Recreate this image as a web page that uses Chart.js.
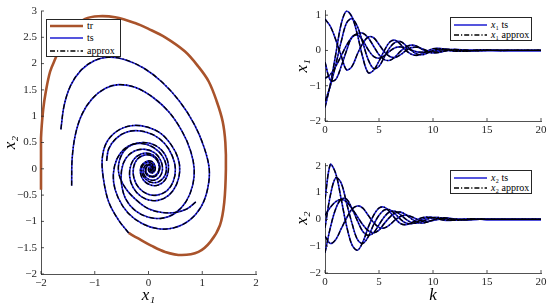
<!DOCTYPE html>
<html>
<head>
<meta charset="utf-8">
<script src="https://cdn.jsdelivr.net/npm/chart.js@4.4.1/dist/chart.umd.min.js"></script>
<style>
  html, body { margin: 0; padding: 0; background: #fff; }
  #page { position: relative; width: 550px; height: 306px; overflow: hidden; }
  canvas { position: absolute; }
  .legend { position: absolute; background: #fff; border: 1px solid #262626; box-sizing: border-box;
            font-family: "Liberation Serif", serif; font-size: 10px; color: #000; }
  .legend .row { position: absolute; left: 0; right: 0; height: 12px; line-height: 12px; display: flex; align-items: center; white-space: nowrap; }
  .legend svg { flex: none; }
</style>
</head>
<body>
<div id="page">
  <canvas id="phase" width="275" height="306" style="left:0;top:0"></canvas>
  <canvas id="x1chart" width="260" height="150" style="left:290px;top:0"></canvas>
  <canvas id="x2chart" width="260" height="156" style="left:290px;top:150px"></canvas>
</div>
<script>
// ---- phase portrait data (x1, x2) ----
const trCurve = [[-2.0,-0.4],[-2.0,0.1],[-2.0,0.58],[-1.96,1.12],[-1.91,1.47],[-1.83,1.85],[-1.73,2.1],
  [-1.6,2.42],[-1.42,2.68],[-1.18,2.85],[-0.93,2.9],[-0.62,2.88],[-0.25,2.77],[0.0,2.66],[0.31,2.5],
  [0.68,2.23],[0.93,1.94],[1.12,1.66],[1.27,1.28],[1.38,0.9],[1.43,0.5],[1.44,0.0],[1.41,-0.63],
  [1.33,-1.07],[1.15,-1.39],[0.93,-1.58],[0.62,-1.64],[0.31,-1.58],[0.05,-1.46],[-0.2,-1.32],[-0.37,-1.22]];

const traj1 = [[-1.63,0.75],[-1.57,1.2],[-1.45,1.58],[-1.25,1.88],[-1.0,2.06],[-0.75,2.12],[-0.45,2.08],
  [-0.1,1.92],[0.25,1.65],[0.58,1.28],[0.85,0.85],[1.03,0.42],[1.13,0.0],[1.1,-0.38],[0.98,-0.72],
  [0.76,-0.98],[0.48,-1.12],[0.18,-1.14],[-0.12,-1.04],[-0.38,-0.84],[-0.56,-0.56],[-0.65,-0.25],
  [-0.63,0.06],[-0.52,0.3],[-0.34,0.45],[-0.12,0.48],[0.1,0.4],[0.26,0.24],[0.33,0.05],[0.31,-0.12],
  [0.2,-0.24],[0.06,-0.26],[-0.06,-0.19],[-0.13,-0.06],[-0.11,0.06],[-0.03,0.12],[0.06,0.1],[0.11,0.02],
  [0.09,-0.05],[0.04,-0.06],[0.01,-0.02],[0.03,0.02],[0.05,0.01]];

const traj2 = [[-1.43,-0.32],[-1.42,0.2],[-1.36,0.65],[-1.24,1.03],[-1.05,1.33],[-0.8,1.53],[-0.55,1.6],
  [-0.25,1.55],[0.08,1.36],[0.38,1.08],[0.62,0.72],[0.78,0.35],[0.85,0.0],[0.82,-0.32],[0.7,-0.62],
  [0.5,-0.84],[0.25,-0.94],[0.0,-0.92],[-0.24,-0.8],[-0.42,-0.58],[-0.5,-0.3],[-0.5,-0.02],[-0.42,0.2],
  [-0.26,0.34],[-0.06,0.37],[0.12,0.3],[0.23,0.15],[0.26,-0.02],[0.2,-0.16],[0.08,-0.22],[-0.04,-0.17],
  [-0.1,-0.06],[-0.07,0.05],[0.01,0.09],[0.08,0.05],[0.08,-0.02],[0.04,-0.04],[0.03,0.0]];

const traj3 = [[-0.78,0.15],[-0.74,0.38],[-0.6,0.58],[-0.4,0.7],[-0.15,0.72],[0.1,0.64],[0.3,0.48],
  [0.44,0.25],[0.5,0.0],[0.46,-0.24],[0.34,-0.42],[0.16,-0.5],[-0.02,-0.48],[-0.18,-0.36],[-0.27,-0.18],
  [-0.28,0.02],[-0.21,0.18],[-0.08,0.26],[0.06,0.25],[0.16,0.16],[0.2,0.03],[0.17,-0.08],[0.09,-0.14],
  [0.0,-0.12],[-0.05,-0.04],[-0.03,0.04],[0.03,0.07],[0.07,0.03],[0.06,-0.02],[0.03,-0.01]];

const traj4 = [[0.88,-0.63],[0.72,-0.76],[0.5,-0.83],[0.25,-0.83],[0.0,-0.76],[-0.22,-0.6],[-0.42,-0.38],
  [-0.55,-0.1],[-0.54,0.16],[-0.42,0.38],[-0.2,0.49],[0.04,0.48],[0.24,0.36],[0.35,0.17],[0.37,-0.03],
  [0.31,-0.21],[0.18,-0.31],[0.04,-0.31],[-0.09,-0.22],[-0.15,-0.08],[-0.13,0.06],[-0.04,0.14],[0.06,0.14],
  [0.12,0.06],[0.12,-0.03],[0.07,-0.08],[0.01,-0.05],[0.0,0.01],[0.04,0.04],[0.06,0.01],[0.04,-0.01]];

const traj5 = [[-0.37,-1.22],[-0.56,-0.97],[-0.74,-0.63],[-0.84,-0.18],[-0.86,0.2],[-0.78,0.5],[-0.58,0.72],
  [-0.32,0.82],[-0.05,0.8],[0.22,0.68],[0.42,0.46],[0.55,0.2],[0.58,-0.05],[0.52,-0.3],[0.38,-0.5],
  [0.18,-0.6],[-0.04,-0.58],[-0.22,-0.45],[-0.33,-0.25],[-0.35,-0.03],[-0.28,0.17],[-0.14,0.28],[0.02,0.29],
  [0.15,0.2],[0.21,0.06],[0.19,-0.07],[0.11,-0.15],[0.0,-0.14],[-0.06,-0.06],[-0.05,0.03],[0.01,0.08],
  [0.07,0.05],[0.08,-0.01],[0.04,-0.03],[0.03,0.0]];

const trajectories = [traj1, traj2, traj3, traj4, traj5];

// ---- time series data ----
const kGrid = [0,0.5,1,1.5,2,2.5,3,3.5,4,4.5,5,5.5,6,6.5,7,7.5,8,8.5,9,9.5,10,10.5,11,11.5,12,13,14,15,16,17,18,19,20];

const x1Run1 = [-1.62,-0.95,-0.1,0.75,1.12,0.95,0.45,-0.2,-0.63,-0.56,-0.3,0.0,0.24,0.29,0.17,0.0,-0.11,-0.14,-0.09,-0.01,0.05,0.06,0.04,0.0,-0.02,-0.02,0.01,0.01,0,0,0,0,0];
const x1Run2 = [-1.45,-1.0,-0.4,0.25,0.78,0.9,0.68,0.22,-0.26,-0.51,-0.45,-0.18,0.08,0.23,0.25,0.14,0.0,-0.1,-0.12,-0.07,0.0,0.04,0.05,0.03,0.0,-0.02,0.0,0.01,0,0,0,0,0];
const x1Run3 = [-0.79,-0.68,-0.45,-0.15,0.15,0.37,0.48,0.49,0.36,0.12,-0.12,-0.26,-0.28,-0.18,-0.02,0.1,0.15,0.12,0.03,-0.04,-0.07,-0.06,-0.02,0.02,0.03,0.01,-0.01,0,0,0,0,0,0];
const x1Run4 = [0.89,0.68,0.3,-0.15,-0.55,-0.45,-0.1,0.2,0.38,0.36,0.17,-0.04,-0.17,-0.2,-0.12,0.0,0.08,0.09,0.05,-0.01,-0.04,-0.04,-0.02,0.0,0.02,0.01,0,0,0,0,0,0,0];
const x1Run5 = [-0.33,-0.85,-0.82,-0.45,0.0,0.38,0.44,0.28,0.02,-0.17,-0.22,-0.15,-0.02,0.08,0.1,0.07,0.01,-0.04,-0.05,-0.04,-0.01,0.01,0.02,0.01,0.0,-0.01,0,0,0,0,0,0,0];

const x2Run1 = [0.75,2.05,1.7,0.75,-0.25,-0.95,-1.15,-0.85,-0.3,0.15,0.42,0.45,0.28,0.03,-0.16,-0.2,-0.13,-0.02,0.06,0.09,0.06,0.01,-0.03,-0.04,-0.02,0.01,0.01,0,0,0,0,0,0];
const x2Run2 = [-0.32,0.9,1.55,1.35,0.6,-0.15,-0.75,-0.9,-0.65,-0.2,0.15,0.35,0.36,0.2,0.0,-0.14,-0.16,-0.1,0.0,0.06,0.07,0.04,-0.01,-0.03,-0.03,0.0,0.01,0,0,0,0,0,0];
const x2Run3 = [0.15,0.45,0.66,0.74,0.65,0.4,0.1,-0.2,-0.42,-0.5,-0.4,-0.15,0.08,0.24,0.27,0.17,0.02,-0.1,-0.14,-0.1,-0.02,0.04,0.06,0.04,0.01,-0.02,0.0,0,0,0,0,0,0];
const x2Run4 = [-0.63,-0.9,-0.75,-0.35,0.05,0.38,0.5,0.42,0.15,-0.12,-0.3,-0.32,-0.2,-0.02,0.11,0.15,0.1,0.01,-0.06,-0.07,-0.04,0.0,0.03,0.03,0.01,-0.01,0,0,0,0,0,0,0];
const x2Run5 = [-1.25,-0.3,0.4,0.75,0.75,0.4,-0.05,-0.45,-0.6,-0.5,-0.2,0.1,0.28,0.3,0.17,0.0,-0.12,-0.14,-0.08,0.01,0.06,0.07,0.03,-0.01,-0.03,-0.01,0.01,0,0,0,0,0,0];

const x1Runs = [x1Run1, x1Run2, x1Run3, x1Run4, x1Run5];
const x2Runs = [x2Run1, x2Run2, x2Run3, x2Run4, x2Run5];

// tick labels
const phaseXTicks = [-2, -1, 0, 1, 2];
const phaseYTicks = [-2, -1.5, -1, -0.5, 0, 0.5, 1, 1.5, 2, 2.5, 3];
const kTicks = [0, 5, 10, 15, 20];
const x1Ticks = [-2, -1, 0, 1];
const x2Ticks = [-2, -1, 0, 1, 2];

// ---- styling ----
const tsColor = '#1c1cd2';
const approxColor = '#000000';
const trColor = '#a9532b';
const axisColor = '#262626';
const dashDot = [5, 2, 1.2, 2];
const tickFont = { family: 'Liberation Serif', size: 11 };
const titleFont = { family: 'Liberation Serif', size: 17, style: 'italic' };

const fmt = v => String(v).replace('-', '\u2212');

function axis(min, max, tickList, title, titlePad, size, horizontal) {
  return {
    type: 'linear', min: min, max: max,
    afterBuildTicks: s => { s.ticks = tickList.map(v => ({ value: v })); },
    afterFit: s => { if (horizontal) s.height = size; else s.width = size; },
    grid: { display: false, drawTicks: false },
    border: { display: true, color: axisColor, width: 0.8 },
    ticks: { color: axisColor, font: tickFont, padding: horizontal ? 3 : 4, autoSkip: false, maxRotation: 0, callback: v => fmt(v) },
    title: { display: true, text: title, color: '#000', font: titleFont, padding: titlePad }
  };
}

// small inward tick marks like the original
const innerTicks = {
  id: 'innerTicks',
  afterDraw(chart) {
    const { ctx, chartArea: a, scales: { x, y } } = chart;
    ctx.save();
    ctx.strokeStyle = axisColor;
    ctx.lineWidth = 0.8;
    ctx.beginPath();
    x.ticks.forEach(t => { const px = x.getPixelForValue(t.value); ctx.moveTo(px, a.bottom); ctx.lineTo(px, a.bottom - 3); });
    y.ticks.forEach(t => { const py = y.getPixelForValue(t.value); ctx.moveTo(a.left, py); ctx.lineTo(a.left + 3, py); });
    ctx.stroke();
    ctx.restore();
  }
};

function lineSet(points, color, width, dash, order) {
  return {
    data: points, borderColor: color, borderWidth: width, borderDash: dash, order: order,
    showLine: true, pointRadius: 0, tension: 0.35, fill: false
  };
}

const pairs = arr => arr.map(p => ({ x: p[0], y: p[1] }));
const series = vals => kGrid.map((k, i) => ({ x: k, y: vals[i] }));

function commonOptions(padding, scales) {
  return {
    responsive: false, animation: false, devicePixelRatio: 1,
    layout: { padding: padding },
    plugins: { legend: { display: false }, tooltip: { enabled: false } },
    scales: scales
  };
}

// ---- phase portrait ----
const trSet = lineSet(pairs(trCurve), trColor, 2.6, [], 3);
trSet.clip = 4;
const phaseSets = [trSet];
trajectories.forEach(t => {
  phaseSets.push(lineSet(pairs(t), tsColor, 1.6, [], 2));
  phaseSets.push(lineSet(pairs(t), approxColor, 1.3, dashDot, 1));
});

new Chart(document.getElementById('phase'), {
  type: 'scatter',
  data: { datasets: phaseSets },
  options: commonOptions({ left: 0, top: 11, right: 19, bottom: 0 }, {
    x: axis(-2, 2, phaseXTicks, 'x\u2081', { top: 0, bottom: 0 }, 32, true),
    y: axis(-2, 3, phaseYTicks, 'x\u2082', { top: 0, bottom: 0 }, 41, false)
  }),
  plugins: [innerTicks]
});

// ---- time series ----
function timeChart(id, runs, yMin, yMax, yTicks, yTitle, xTitle, padding, xHeight) {
  const sets = [];
  runs.forEach(r => {
    sets.push(lineSet(series(r), tsColor, 1.6, [], 2));
    sets.push(lineSet(series(r), approxColor, 1.3, dashDot, 1));
  });
  const xAxis = axis(0, 20, kTicks, xTitle, { top: 0, bottom: 0 }, xHeight, true);
  if (!xTitle) xAxis.title.display = false;
  new Chart(document.getElementById(id), {
    type: 'scatter',
    data: { datasets: sets },
    options: commonOptions(padding, {
      x: xAxis,
      y: axis(yMin, yMax, yTicks, yTitle, { top: 2, bottom: 0 }, 35, false)
    }),
    plugins: [innerTicks]
  });
}

timeChart('x1chart', x1Runs, -2, 1.13, x1Ticks, 'x\u2081', '', { left: 0, top: 10, right: 9, bottom: 0 }, 29);
timeChart('x2chart', x2Runs, -2, 2.1, x2Ticks, 'x\u2082', 'k', { left: 0, top: 13, right: 9, bottom: 0 }, 33);

// ---- legends ----
function sample(color, width, dash) {
  return '<svg width="33" height="12"><line x1="0" y1="6" x2="33" y2="6" stroke="' + color +
    '" stroke-width="' + width + '" stroke-dasharray="' + dash + '"/></svg>';
}

function addLegend(left, top, width, height, rows) {
  const box = document.createElement('div');
  box.className = 'legend';
  Object.assign(box.style, { left: left + 'px', top: top + 'px', width: width + 'px', height: height + 'px' });
  rows.forEach(r => {
    const row = document.createElement('div');
    row.className = 'row';
    row.style.top = (r.y - 6) + 'px';
    row.style.paddingLeft = '3px';
    row.innerHTML = sample(r.color, r.width, r.dash) + '<span style="margin-left:4px">' + r.label + '</span>';
    box.appendChild(row);
  });
  document.getElementById('page').appendChild(box);
}

addLegend(46, 19, 75, 38, [
  { y: 5.5, label: 'tr', color: trColor, width: 2.6, dash: '' },
  { y: 18, label: 'ts', color: tsColor, width: 1.6, dash: '' },
  { y: 30.5, label: 'approx', color: approxColor, width: 1.4, dash: dashDot.join(',') }
]);
addLegend(450, 17, 82, 24, [
  { y: 6.5, label: '<i>x</i>\u2081 ts', color: tsColor, width: 1.6, dash: '' },
  { y: 16.5, label: '<i>x</i>\u2081 approx', color: approxColor, width: 1.4, dash: dashDot.join(',') }
]);
addLegend(450, 170, 82, 24, [
  { y: 6.5, label: '<i>x</i>\u2082 ts', color: tsColor, width: 1.6, dash: '' },
  { y: 16.5, label: '<i>x</i>\u2082 approx', color: approxColor, width: 1.4, dash: dashDot.join(',') }
]);
</script>
</body>
</html>
